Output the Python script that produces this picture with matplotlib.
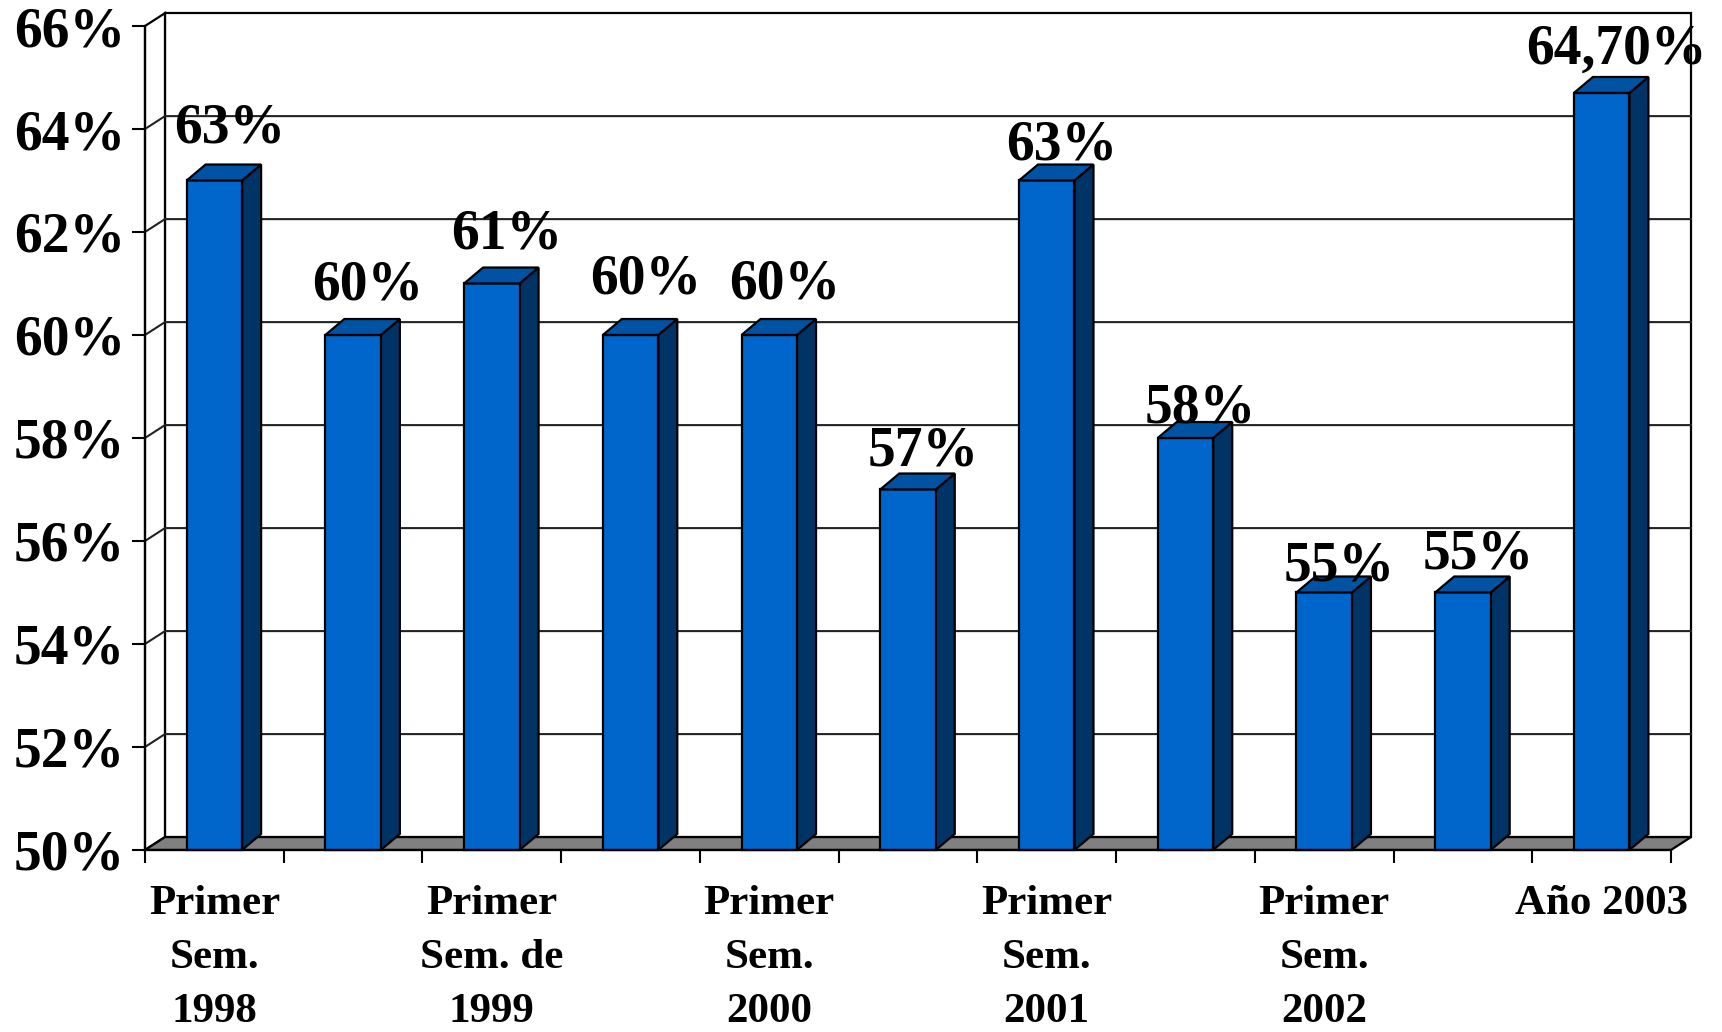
import numpy as np
import matplotlib
matplotlib.use('Agg')
import matplotlib.pyplot as plt
from matplotlib.patches import Polygon

CATEGORIES = ['Primer\nSem.\n1998', '', 'Primer\nSem. de\n1999', '',
              'Primer\nSem.\n2000', '', 'Primer\nSem.\n2001', '',
              'Primer\nSem.\n2002', '', 'Año 2003']
VALUES = [63, 60, 61, 60, 60, 57, 63, 58, 55, 55, 64.7]
VALUE_LABELS = ['63%', '60%', '61%', '60%', '60%', '57%', '63%', '58%',
                '55%', '55%', '64,70%']
YTICKS = [50, 52, 54, 56, 58, 60, 62, 64, 66]

# label lift above the bar front top, in pixels (labels were hand-placed)
LABEL_LIFT = [38, 35, 35, 41, 36, 24, 21, 15, 12, 24, 29]

FRONT = '#0066CC'
SIDE = '#003366'
TOP = '#0052A3'
FLOOR = '#808080'
FONT = 'Liberation Serif'

# depth of the 3D box (data units)
WALL_DX, WALL_DY = 0.144, 0.25
BAR_DX, BAR_DY = 0.137, 0.31
BAR_W = 0.4

fig = plt.figure(figsize=(17.22, 10.32), dpi=100)
ax = fig.add_axes([0.0842, 0.1764, 0.8862, 0.7984])
ax.set_xlim(-0.5, 10.5)
ax.set_ylim(50, 66)

x0, x1 = -0.5, 10.5
y0, y1 = 50, 66
lw = 1.6

# back wall
ax.add_patch(Polygon([(x0 + WALL_DX, y0 + WALL_DY), (x1 + WALL_DX, y0 + WALL_DY),
                      (x1 + WALL_DX, y1 + WALL_DY), (x0 + WALL_DX, y1 + WALL_DY)],
                     closed=True, fc='white', ec='black', lw=lw, zorder=0,
                     clip_on=False))
# left wall
ax.add_patch(Polygon([(x0, y0), (x0 + WALL_DX, y0 + WALL_DY),
                      (x0 + WALL_DX, y1 + WALL_DY), (x0, y1)],
                     closed=True, fc='white', ec='black', lw=lw, zorder=0,
                     clip_on=False))
# gridlines
for y in YTICKS[1:-1]:
    ax.plot([x0, x0 + WALL_DX, x1 + WALL_DX], [y, y + WALL_DY, y + WALL_DY],
            color='#222222', lw=1.5, zorder=1, clip_on=False)
# floor
ax.add_patch(Polygon([(x0, y0), (x1, y0), (x1 + WALL_DX, y0 + WALL_DY),
                      (x0 + WALL_DX, y0 + WALL_DY)],
                     closed=True, fc=FLOOR, ec='black', lw=lw, zorder=2,
                     clip_on=False))

# bars
for i, v in enumerate(VALUES):
    l, r = i - BAR_W / 2, i + BAR_W / 2
    ax.add_patch(Polygon([(l, y0), (r, y0), (r, v), (l, v)], closed=True,
                         fc=FRONT, ec='black', lw=lw, zorder=4, clip_on=False))
    ax.add_patch(Polygon([(r, y0), (r + BAR_DX, y0 + BAR_DY),
                          (r + BAR_DX, v + BAR_DY), (r, v)], closed=True,
                         fc=SIDE, ec='black', lw=lw, zorder=3, clip_on=False))
    ax.add_patch(Polygon([(l, v), (r, v), (r + BAR_DX, v + BAR_DY),
                          (l + BAR_DX, v + BAR_DY)], closed=True,
                         fc=TOP, ec='black', lw=lw, zorder=4, clip_on=False))
    ax.annotate(VALUE_LABELS[i], (i, v), xytext=(15 * 0.72, LABEL_LIFT[i] * 0.72),
                textcoords='offset points', ha='center', va='baseline',
                fontsize=40, fontweight='bold', family=FONT, zorder=10,
                annotation_clip=False)

for s in ['top', 'right']:
    ax.spines[s].set_visible(False)
for s in ['left', 'bottom']:
    ax.spines[s].set_linewidth(lw)
    ax.spines[s].set_zorder(5)
ax.patch.set_visible(False)

ax.set_yticks(YTICKS)
ax.set_yticklabels(['%d%%' % t for t in YTICKS], fontsize=40,
                   fontweight='bold', family=FONT)
ax.tick_params(axis='y', direction='out', length=9.5, width=1.5, pad=5)

ax.set_xticks(np.arange(len(CATEGORIES)))
ax.set_xticklabels(CATEGORIES, fontsize=31, fontweight='bold', family=FONT,
                   linespacing=1.55)
ax.set_xticks(np.arange(-0.5, len(CATEGORIES)), minor=True)
ax.tick_params(axis='x', which='major', length=0, pad=25)
ax.tick_params(axis='x', which='minor', direction='out', length=9.5, width=1.5)

fig.savefig('out.png', dpi=100)
